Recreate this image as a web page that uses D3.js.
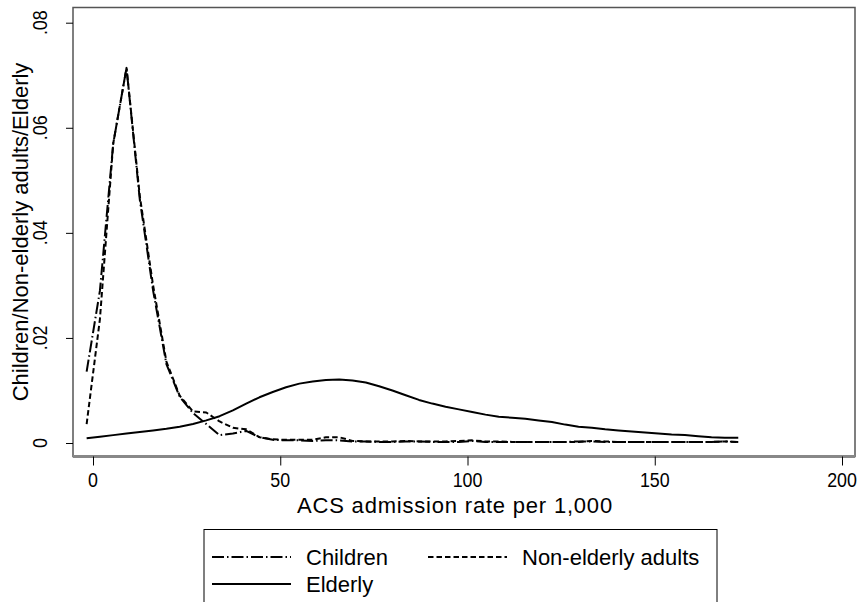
<!DOCTYPE html>
<html>
<head>
<meta charset="utf-8">
<script src="https://cdn.jsdelivr.net/npm/d3@7"></script>
<style>
  body { margin: 0; background: #fff; }
  svg { display: block; }
  text { font-family: "Liberation Sans", Arial, sans-serif; fill: #000; }
</style>
</head>
<body>
<div id="chart"></div>
<script>
"use strict";

// evaluation points of the density estimates (ACS admissions per 1,000)
const xPoints = [-1.7, 1.85, 5.4, 8.95, 12.5, 16.05, 19.6, 23.15, 26.7, 30.25,
  33.8, 37.35, 40.9, 44.45, 48, 51.55, 55.1, 58.65, 62.2, 65.75,
  69.3, 72.85, 76.4, 79.95, 83.5, 87.05, 90.6, 94.15, 97.7, 101.25,
  104.8, 108.35, 111.9, 115.45, 119, 122.55, 126.1, 129.65, 133.2, 136.75,
  140.3, 143.85, 147.4, 150.95, 154.5, 158.05, 161.6, 165.15, 168.7, 172.3];

// density values
const children = [.0136, .0290, .0570, .0714, .0463, .0290, .0150, .0088, .0057, .0036,
  .0015, .0018, .0023, .0011, .0006, .0005, .0005, .0004, .0005, .0005,
  .0003, .0003, .0002, .0002, .0003, .0003, .0002, .0002, .0002, .0004,
  .0002, .0002, .0002, .0002, .0002, .0002, .0002, .0003, .0003, .0002,
  .0002, .0002, .0002, .0002, .0002, .0002, .0002, .0002, .0003, .0002];

const adults = [.0036, .0236, .0570, .0714, .0470, .0300, .0155, .0090, .0060, .0058,
  .0041, .0029, .0026, .0011, .0007, .0006, .0006, .0006, .0011, .0011,
  .0004, .0003, .0003, .0003, .0004, .0003, .0003, .0003, .0004, .0005,
  .0003, .0003, .0002, .0002, .0002, .0002, .0002, .0002, .0004, .0003,
  .0002, .0002, .0002, .0002, .0002, .0002, .0002, .0002, .0003, .0002];

const elderly = [.0009, .0012, .0015, .0018, .0021, .0024, .0027, .0031, .0036, .0043,
  .0051, .0062, .0075, .0087, .0097, .0106, .0113, .0117, .0120, .0121,
  .0119, .0115, .0108, .0100, .0091, .0082, .0075, .0069, .0064, .0059,
  .0054, .0050, .0048, .0046, .0043, .0040, .0035, .0031, .0029, .0026,
  .0024, .0022, .0020, .0018, .0016, .0015, .0013, .0011, .0010, .0010];

const xTicks = [0, 50, 100, 150, 200];
const yTicks = [0, 0.02, 0.04, 0.06, 0.08];
const yTickLabels = ["0", ".02", ".04", ".06", ".08"];

const seriesNames = ["Children", "Non-elderly adults", "Elderly"];
const seriesDash = ["12,3,1.5,3", "5.5,3", null];

const width = 861, height = 602;

// plot region
const frame = { left: 73, right: 855, top: 7.5, bottom: 456.5 };

const svg = d3.select("#chart").append("svg")
  .attr("width", width)
  .attr("height", height);

const xScale = d3.scaleLinear().domain([0, 200]).range([93, 842]);
const yScale = d3.scaleLinear().domain([0, 0.08]).range([443, 22.7]);

// frame
svg.append("rect")
  .attr("x", frame.left)
  .attr("y", frame.top)
  .attr("width", frame.right - frame.left)
  .attr("height", frame.bottom - frame.top)
  .attr("fill", "none")
  .attr("stroke", "#555")
  .attr("stroke-width", 1.5);
svg.append("line")
  .attr("x1", frame.left).attr("x2", frame.right)
  .attr("y1", frame.bottom).attr("y2", frame.bottom)
  .attr("stroke", "#888").attr("stroke-width", 3);

// y axis
const yAxis = svg.append("g")
  .attr("transform", "translate(" + frame.left + ",0)")
  .call(d3.axisLeft(yScale).tickValues(yTicks).tickSize(7).tickFormat(""));
yAxis.select(".domain").remove();
yAxis.selectAll(".tick line").attr("stroke", "#000").attr("stroke-width", 1);

// tick labels are tall and narrow in the original
svg.append("g").selectAll("text")
  .data(yTicks)
  .enter()
  .append("text")
  .attr("transform", (d) => "translate(47," + yScale(d) + ") rotate(-90) scale(0.85,1)")
  .attr("text-anchor", "middle")
  .style("font-size", "21px")
  .text((d, i) => yTickLabels[i]);

// x axis
const xAxis = svg.append("g")
  .attr("transform", "translate(0," + frame.bottom + ")")
  .call(d3.axisBottom(xScale).tickValues(xTicks).tickSize(9).tickFormat(""));
xAxis.select(".domain").remove();
xAxis.selectAll(".tick line").attr("stroke", "#000").attr("stroke-width", 1);

svg.append("g").selectAll("text")
  .data(xTicks)
  .enter()
  .append("text")
  .attr("transform", (d) => "translate(" + xScale(d) + ",487) scale(0.85,1)")
  .attr("text-anchor", "middle")
  .style("font-size", "21px")
  .text((d) => d);

// axis titles
svg.append("text")
  .attr("x", (frame.left + frame.right) / 2 - 9)
  .attr("y", 513)
  .attr("text-anchor", "middle")
  .style("font-size", "22px")
  .style("letter-spacing", "0.8px")
  .text("ACS admission rate per 1,000");

svg.append("text")
  .attr("transform", "translate(28," + (frame.top + frame.bottom) / 2 + ") rotate(-90)")
  .attr("text-anchor", "middle")
  .style("font-size", "22px")
  .text("Children/Non-elderly adults/Elderly");

// density lines
const allSeries = [children, adults, elderly];
allSeries.forEach(function (vals, i) {
  const line = d3.line()
    .x((d, j) => xScale(xPoints[j]))
    .y((d) => yScale(d));
  svg.append("path")
    .datum(vals)
    .attr("d", line)
    .attr("fill", "none")
    .attr("stroke", "#000")
    .attr("stroke-width", 2)
    .attr("stroke-linejoin", "round")
    .attr("stroke-dasharray", seriesDash[i]);
});

// legend
const legend = svg.append("g");
legend.append("rect")
  .attr("x", 204)
  .attr("y", 529.5)
  .attr("width", 513)
  .attr("height", 90)
  .attr("fill", "#fff")
  .attr("stroke", "#000")
  .attr("stroke-width", 1);

const legendPos = [
  { x: 212, y: 557 },
  { x: 428, y: 557 },
  { x: 212, y: 584 }
];
seriesNames.forEach(function (name, i) {
  const p = legendPos[i];
  legend.append("line")
    .attr("x1", p.x).attr("x2", p.x + 79)
    .attr("y1", p.y).attr("y2", p.y)
    .attr("stroke", "#000")
    .attr("stroke-width", 2)
    .attr("stroke-dasharray", seriesDash[i]);
  legend.append("text")
    .attr("x", p.x + 94)
    .attr("y", p.y + 8)
    .style("font-size", "22px")
    .text(name);
});
</script>
</body>
</html>
